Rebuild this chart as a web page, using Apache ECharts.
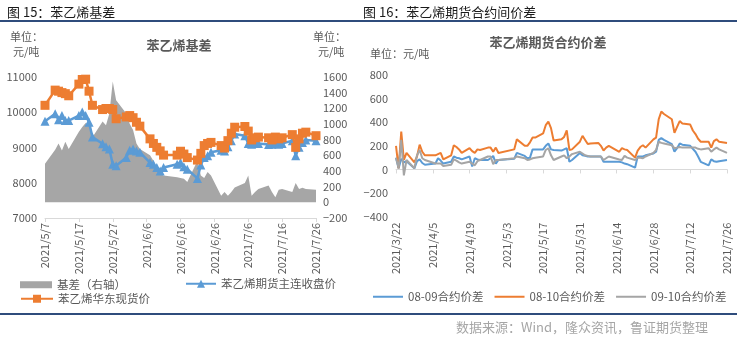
<!DOCTYPE html>
<html><head><meta charset="utf-8">
<script src="https://cdn.jsdelivr.net/npm/echarts@6/dist/echarts.min.js"></script>
<style>html,body{margin:0;padding:0;background:#fff}#c{width:740px;height:337px}</style>
</head><body><div id="c"></div>
<script>
// ---------- Left chart data (figure 15) ----------
const leftDates = ['2021/5/7','2021/5/10','2021/5/11','2021/5/12','2021/5/13','2021/5/14','2021/5/17','2021/5/18','2021/5/19','2021/5/20','2021/5/21','2021/5/24','2021/5/25','2021/5/26','2021/5/27','2021/5/28','2021/5/31','2021/6/1','2021/6/2','2021/6/3','2021/6/4','2021/6/7','2021/6/8','2021/6/9','2021/6/10','2021/6/11','2021/6/15','2021/6/16','2021/6/17','2021/6/18','2021/6/21','2021/6/22','2021/6/23','2021/6/24','2021/6/25','2021/6/28','2021/6/29','2021/6/30','2021/7/1','2021/7/2','2021/7/5','2021/7/6','2021/7/7','2021/7/8','2021/7/9','2021/7/12','2021/7/13','2021/7/14','2021/7/15','2021/7/16','2021/7/19','2021/7/20','2021/7/21','2021/7/22','2021/7/23','2021/7/26'];
const spotPrice = [10190,10620,10590,10550,10520,10460,10790,10920,10930,10590,10190,10070,10100,10100,10070,9810,9860,9900,9840,9710,9600,9240,9110,9000,8900,8780,8780,8890,8810,8710,8640,8830,9050,9110,9140,9050,8980,9190,9400,9570,9590,9460,9210,9270,9290,9270,9210,9290,9240,9270,9360,9000,9240,9400,9430,9330];
const futuresPrice = [9740,9950,9780,9900,9760,9760,9900,10000,9900,9710,9290,9100,9020,8950,8520,8480,8710,8920,8950,8900,8860,8570,8520,8430,8330,8430,8520,8570,8450,8380,8120,8500,8710,8760,8860,8920,8900,9020,9190,9380,9330,9110,9090,9140,9110,9080,9090,9110,9090,9110,9190,8760,9000,9140,9210,9190];
const basis = [490,670,750,660,770,680,900,960,1010,980,830,1030,980,1130,1540,1300,1130,1000,920,750,680,600,530,430,360,340,320,310,300,260,530,340,310,385,340,85,130,85,130,190,245,340,85,130,170,215,130,65,160,170,130,245,170,185,170,160];
const leftNames = ['基差（右轴）','苯乙烯期货主连收盘价','苯乙烯华东现货价'];
const leftYTicks = {min:7000, max:11000, interval:1000};
const rightYTicks = {min:-200, max:1600, interval:200};

// ---------- Right chart data (figure 16) ----------
const rightDates = ['2021/3/22','2021/3/23','2021/3/24','2021/3/25','2021/3/26','2021/3/29','2021/3/30','2021/3/31','2021/4/1','2021/4/2','2021/4/6','2021/4/7','2021/4/8','2021/4/9','2021/4/12','2021/4/13','2021/4/14','2021/4/15','2021/4/16','2021/4/19','2021/4/20','2021/4/21','2021/4/22','2021/4/23','2021/4/26','2021/4/27','2021/4/28','2021/4/29','2021/4/30','2021/5/6','2021/5/7','2021/5/10','2021/5/11','2021/5/12','2021/5/13','2021/5/14','2021/5/17','2021/5/18','2021/5/19','2021/5/20','2021/5/21','2021/5/24','2021/5/25','2021/5/26','2021/5/27','2021/5/28','2021/5/31','2021/6/1','2021/6/2','2021/6/3','2021/6/4','2021/6/7','2021/6/8','2021/6/9','2021/6/10','2021/6/11','2021/6/15','2021/6/16','2021/6/17','2021/6/18','2021/6/21','2021/6/22','2021/6/23','2021/6/24','2021/6/25','2021/6/28','2021/6/29','2021/6/30','2021/7/1','2021/7/2','2021/7/5','2021/7/6','2021/7/7','2021/7/8','2021/7/9','2021/7/12','2021/7/13','2021/7/14','2021/7/15','2021/7/16','2021/7/19','2021/7/20','2021/7/21','2021/7/22','2021/7/23','2021/7/26'];
const spread0809 = [100,10,90,60,70, 10,70,85,55,40, 50,95,75,50, 65,110,100,95,85, 110,25,95,85,80, 80,95,115,50,80, 90,140, 115,95,100,170,170, 170,200,220,170,165, 160,170,180,65,80, 140,120,115,110,110, 110,110,65,65,65, 65,60,50,45, 15,110,110,110,120, 135,150,250,265,250, 215,150,180,220,210, 200,175,150,110,65, 35,85,70,65,70, 80];
const spread0810 = [200,10,320,80,140, 60,110,210,150,120, 120,130,140,85, 120,205,190,170,140, 180,155,140,170,165, 185,185,150,185,140, 170,255, 200,200,230,270,270, 305,375,405,350,245, 255,275,330,165,170, 235,285,250,215,220, 225,200,160,185,200, 150,180,170,165, 100,160,190,205,185, 255,270,425,490,470, 425,310,360,410,390, 380,330,300,260,235, 235,185,240,255,235, 225];
const spread0910 = [100,10,250,-50,80, 10,120,165,95,80, 50,50,50,30, 40,85,75,60,50, 65,50,35,70,80, 110,110,45,80,80, 95,110, 95,80,85,95,100, 110,165,180,120,80, 110,120,95,110,130, 150,135,120,115,110, 110,110,80,95,110, 85,80,115,100, 80,100,100,95,110, 140,165,235,225,220, 205,180,185,190,185, 185,185,185,175,170, 180,150,170,185,170, 140];
const rightNames = ['08-09合约价差','08-10合约价差','09-10合约价差'];
const spreadYTicks = {min:-400, max:800, interval:200};

// ---------- helpers ----------
function calendar(first, last) {
  const p = s => s.split('/').map(Number);
  const a = p(first), b = p(last);
  const d = new Date(a[0], a[1]-1, a[2]), e = new Date(b[0], b[1]-1, b[2]);
  const out = [];
  while (d <= e) { out.push(d.getFullYear()+'/'+(d.getMonth()+1)+'/'+d.getDate()); d.setDate(d.getDate()+1); }
  return out;
}
const pairs = (dates, vals) => dates.map((d, i) => [d, vals[i]]);
const plain = v => (v < 0 ? '\u2212' + (-v) : String(v));

const leftCal = calendar(leftDates[0], leftDates[leftDates.length-1]);
const rightCal = calendar(rightDates[0], rightDates[rightDates.length-1]);

const FONT = '"Noto Sans CJK SC", "Microsoft YaHei", sans-serif';
const TXT = '#595959';
const AX = '#D9D9D9';
const BLUE = '#5B9BD5', ORANGE = '#ED7D31', GRAY = '#A5A5A5';

const chart = echarts.init(document.getElementById('c'), null, {renderer: 'canvas'});

const txt = (text, x, y, opts) => ({
  type: 'text', x: x, y: y, silent: true,
  style: Object.assign({text: text, fill: TXT, fontSize: 11, fontFamily: FONT, align: 'left', verticalAlign: 'middle'}, opts || {})
});

chart.setOption({
  animation: false,
  textStyle: {fontFamily: FONT},
  grid: [
    {left: 45, top: 76.7, width: 271, height: 141.3},
    {left: 396, top: 75, width: 331, height: 141.7}
  ],
  xAxis: [
    {type: 'category', gridIndex: 0, data: leftCal, boundaryGap: false, position: 'bottom',
     axisLine: {onZero: false, lineStyle: {color: AX, width: 1}},
     axisTick: {interval: 9, length: 4, lineStyle: {color: AX}},
     axisLabel: {interval: 9, rotate: 90, color: TXT, fontSize: 11, margin: 5},
     splitLine: {show: false}},
    {type: 'category', gridIndex: 1, data: rightCal, boundaryGap: false, position: 'bottom',
     axisLine: {onZero: true, lineStyle: {color: AX, width: 1}},
     axisTick: {interval: 13, length: 4, lineStyle: {color: AX}},
     axisLabel: {show: false}, splitLine: {show: false}},
    {type: 'category', gridIndex: 1, data: rightCal, boundaryGap: false, position: 'bottom',
     axisLine: {show: false, onZero: false}, axisTick: {show: false},
     axisLabel: {interval: 13, rotate: 90, color: TXT, fontSize: 11, margin: 6}, splitLine: {show: false}}
  ],
  yAxis: [
    {type: 'value', gridIndex: 0, position: 'left', min: leftYTicks.min, max: leftYTicks.max, interval: leftYTicks.interval,
     axisLine: {show: false}, axisTick: {show: false}, splitLine: {show: false},
     axisLabel: {color: TXT, fontSize: 11, margin: 8, formatter: plain}},
    {type: 'value', gridIndex: 0, position: 'right', min: rightYTicks.min, max: rightYTicks.max, interval: rightYTicks.interval,
     axisLine: {show: false}, axisTick: {show: false}, splitLine: {show: false},
     axisLabel: {color: TXT, fontSize: 11, margin: 7, formatter: plain}},
    {type: 'value', gridIndex: 1, position: 'left', min: spreadYTicks.min, max: spreadYTicks.max, interval: spreadYTicks.interval,
     axisLine: {show: false}, axisTick: {show: false}, splitLine: {show: false},
     axisLabel: {color: TXT, fontSize: 11, margin: 8, formatter: plain}}
  ],
  legend: [
    {left: 20, top: 279, padding: 0, itemWidth: 32, itemHeight: 7, selectedMode: false,
     data: [{name: leftNames[0], icon: 'rect'}], textStyle: {color: TXT, fontSize: 11.5, fontFamily: FONT}},
    {left: 185, top: 278, padding: 0, itemWidth: 30, itemHeight: 10, selectedMode: false,
     data: [leftNames[1]], textStyle: {color: TXT, fontSize: 11.5, fontFamily: FONT}},
    {left: 20, top: 293, padding: 0, itemWidth: 32, itemHeight: 10, selectedMode: false,
     data: [leftNames[2]], textStyle: {color: TXT, fontSize: 11.5, fontFamily: FONT}},
    {left: 373, top: 291, padding: 0, itemWidth: 30, itemHeight: 2, itemGap: 11, selectedMode: false,
     data: rightNames.map(n => ({name: n, icon: 'rect'})), textStyle: {color: TXT, fontSize: 11.5, fontFamily: FONT}}
  ],
  series: [
    {name: leftNames[0], type: 'line', xAxisIndex: 0, yAxisIndex: 1, data: pairs(leftDates, basis),
     symbol: 'none', color: GRAY, lineStyle: {width: 0, color: GRAY}, areaStyle: {color: '#A6A6A6', opacity: 1}, z: 1},
    {name: leftNames[1], type: 'line', xAxisIndex: 0, yAxisIndex: 0, data: pairs(leftDates, futuresPrice),
     symbol: 'triangle', symbolSize: 9, showAllSymbol: true, color: BLUE, lineStyle: {width: 2.5, color: BLUE}, itemStyle: {color: BLUE}, z: 3},
    {name: leftNames[2], type: 'line', xAxisIndex: 0, yAxisIndex: 0, data: pairs(leftDates, spotPrice),
     symbol: 'rect', symbolSize: 9, showAllSymbol: true, color: ORANGE, lineStyle: {width: 2.5, color: ORANGE}, itemStyle: {color: ORANGE}, z: 4},
    {name: rightNames[0], type: 'line', xAxisIndex: 1, yAxisIndex: 2, data: pairs(rightDates, spread0809),
     symbol: 'none', color: BLUE, lineStyle: {width: 2, color: BLUE}},
    {name: rightNames[1], type: 'line', xAxisIndex: 1, yAxisIndex: 2, data: pairs(rightDates, spread0810),
     symbol: 'none', color: ORANGE, lineStyle: {width: 2, color: ORANGE}},
    {name: rightNames[2], type: 'line', xAxisIndex: 1, yAxisIndex: 2, data: pairs(rightDates, spread0910),
     symbol: 'none', color: GRAY, lineStyle: {width: 2, color: GRAY}}
  ],
  graphic: [
    txt('图 15：苯乙烯基差', 7, 12, {fill: '#1a1a1a', fontSize: 13}),
    txt('图 16：苯乙烯期货合约间价差', 363, 12, {fill: '#1a1a1a', fontSize: 13}),
    {type: 'rect', silent: true, shape: {x: 0, y: 20, width: 737, height: 2}, style: {fill: '#2F4C7C'}},
    {type: 'rect', silent: true, shape: {x: 0, y: 313, width: 737, height: 2}, style: {fill: '#2F4C7C'}},
    txt('单位：', 10, 37),
    txt('元/吨', 13, 52),
    txt('苯乙烯基差', 179, 45, {fontSize: 13, fontWeight: 'bold', align: 'center'}),
    txt('单位：', 313, 37),
    txt('元/吨', 318, 52),
    txt('苯乙烯期货合约价差', 548, 42, {fontSize: 13, fontWeight: 'bold', align: 'center'}),
    txt('单位：元/吨', 370, 54),
    txt('数据来源：Wind，隆众资讯，鲁证期货整理', 708, 327, {fill: '#A6A6A6', fontSize: 13, align: 'right'})
  ]
});
</script></body></html>
